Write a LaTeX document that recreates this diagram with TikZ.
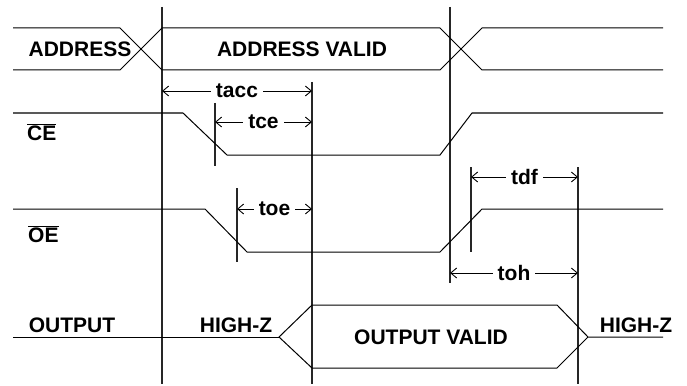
\documentclass[tikz,border=0pt]{standalone}
\usepackage{fontspec}
\setmainfont{Liberation Sans}
\usetikzlibrary{arrows.meta}

\begin{document}
\begin{tikzpicture}[x=1pt,y=-1pt,
  sig/.style={line width=1pt,line join=miter},
  vline/.style={line width=1.2pt,black!85},
  dim/.style={line width=0.9pt,{Straight Barb[length=6pt,width=10pt]}-{Straight Barb[length=6pt,width=10pt]}},
  lbl/.style={font=\bfseries\fontsize{21}{25}\selectfont,inner sep=0pt},
  tlbl/.style={lbl,fill=white,inner xsep=5pt,inner ysep=2pt}]
\useasboundingbox (0,0) rectangle (687,385);
% timing edges
\draw[vline] (162,7) -- (162,384);
\draw[vline] (450,7) -- (450,283);
\draw[vline] (312,82) -- (312,384);
\draw[vline] (578,167) -- (578,384);
\draw[vline] (215,103) -- (215,166);
\draw[vline] (237,188) -- (237,262);
\draw[vline] (471,167) -- (471,252);
% signals
\draw[sig] (13,28) -- (120,28) -- (162,70) -- (440,70) -- (482,28) -- (663,28);
\draw[sig] (13,70) -- (120,70) -- (162,28) -- (440,28) -- (482,70) -- (663,70);
\draw[sig] (13,113) -- (183,113) -- (227,155) -- (440,155) -- (472,113) -- (663,113);
\draw[sig] (13,209) -- (205,209) -- (247,252) -- (440,252) -- (482,209) -- (663,209);
\draw[sig] (13,337) -- (279,337);
\draw[sig] (663,337) -- (588,337) -- (557,305) -- (312,305) -- (279,337) -- (312,368) -- (557,368) -- (588,337);
% labels
\node[lbl] (addr) at (80,49) {ADDRESS};
\node[lbl] (addrvalid) at (302,49) {ADDRESS VALID};
\node[lbl,anchor=base west] (ce) at (27,140) {$\overline{\hbox{CE}}$};
\node[lbl,anchor=base west] (oe) at (28,242) {$\overline{\hbox{OE}}$};
\node[lbl] (out) at (72,325) {OUTPUT};
\node[lbl] (hiz1) at (236,325) {HIGH-Z};
\node[lbl] (outvalid) at (431,337) {OUTPUT VALID};
\node[lbl] (hiz2) at (636,325) {HIGH-Z};
% timing parameters
\coordinate (acc-a) at (162,91);  \coordinate (acc-b) at (312,91);
\coordinate (ce-a) at (215,122);  \coordinate (ce-b) at (312,122);
\coordinate (oe-a) at (237,209);  \coordinate (oe-b) at (312,209);
\coordinate (df-a) at (471,177);  \coordinate (df-b) at (578,177);
\coordinate (oh-a) at (450,273);  \coordinate (oh-b) at (578,273);
\draw[dim] (acc-a) -- (acc-b) node[midway,tlbl] (tacc) {tacc};
\draw[dim] (ce-a) -- (ce-b) node[midway,tlbl] (tce) {tce};
\draw[dim] (oe-a) -- (oe-b) node[midway,tlbl] (toe) {toe};
\draw[dim] (df-a) -- (df-b) node[midway,tlbl] (tdf) {tdf};
\draw[dim] (oh-a) -- (oh-b) node[midway,tlbl] (toh) {toh};
\end{tikzpicture}
\end{document}
